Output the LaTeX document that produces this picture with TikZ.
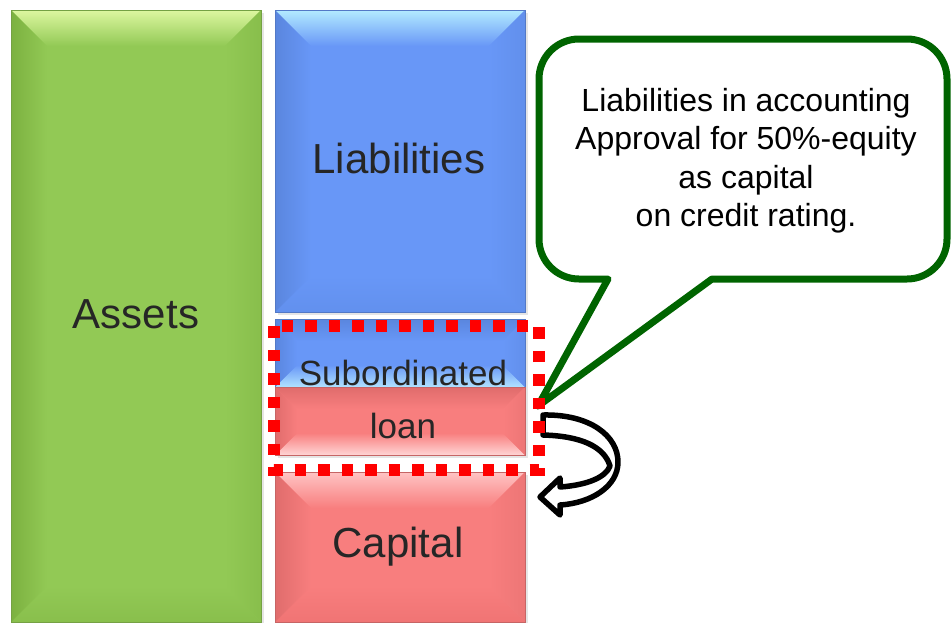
\documentclass[tikz,border=0pt]{standalone}
\usepackage{fontspec}
\setmainfont{Liberation Sans}
\definecolor{gBase}{HTML}{92C955}
\definecolor{gTop}{HTML}{DDF7A0}
\definecolor{gLeft}{HTML}{7CB140}
\definecolor{gBot}{HTML}{89BF4C}
\definecolor{bBase}{HTML}{6897F7}
\definecolor{bTop}{HTML}{B3EBFF}
\definecolor{bLeft}{HTML}{5A86DE}
\definecolor{bBot}{HTML}{6290EE}
\definecolor{bLight}{HTML}{B0E2FF}
\definecolor{rBase}{HTML}{F87E7E}
\definecolor{rTop}{HTML}{FFC4C4}
\definecolor{rLeft}{HTML}{E06C6C}
\definecolor{rBot}{HTML}{F07474}
\definecolor{rLight}{HTML}{FFD4D4}
\definecolor{txt}{HTML}{262626}
\definecolor{callgreen}{HTML}{006400}
% x1 y1 x2 y2 base top left bottom bevel
\newcommand{\bevbox}[9]{%
  \fill[black!10] ({#1+3},{#2+3}) rectangle ({#3+3},{#4+3});
  \fill[#5] (#1,#2) rectangle (#3,#4);
  \shade[top color=#6,bottom color=#5] (#1,#2) -- (#3,#2) -- ({#3-#9},{#2+#9}) -- ({#1+#9},{#2+#9}) -- cycle;
  \shade[top color=#5,bottom color=#8] (#1,#4) -- (#3,#4) -- ({#3-#9},{#4-#9}) -- ({#1+#9},{#4-#9}) -- cycle;
  \shade[left color=#7,right color=#5] (#1,#2) -- ({#1+#9},{#2+#9}) -- ({#1+#9},{#4-#9}) -- (#1,#4) -- cycle;
  \shade[left color=#5,right color=#7!45!#5] (#3,#2) -- ({#3-#9},{#2+#9}) -- ({#3-#9},{#4-#9}) -- (#3,#4) -- cycle;
  \draw[#5!80!black, line width=0.8] (#1,#2) rectangle (#3,#4);
}
\begin{document}
\begin{tikzpicture}[x=1pt,y=-1pt,
  bigtxt/.style={text=txt, inner sep=0pt, anchor=base, font=\fontsize{42}{50}\selectfont},
  midtxt/.style={text=txt, inner sep=0pt, anchor=base, font=\fontsize{35}{42}\selectfont},
  callout/.style={draw=callgreen, fill=white, line width=7pt, line join=round},
  turnarrow/.style={draw=black, fill=white, line width=5.5pt, line join=round},
  reddots/.style={draw=red, line width=11.5pt, dash pattern=on 11.5pt off 12pt}]
\useasboundingbox (0,0) rectangle (951,622);
\fill[white] (0,0) rectangle (951,622);

% blocks
\bevbox{11}{10}{261}{622}{gBase}{gTop}{gLeft}{gBot}{36}
\bevbox{275}{10}{525}{312}{bBase}{bTop}{bLeft}{bBot}{36}
\bevbox{275}{319}{525}{387}{bBase}{bLeft}{bLeft}{bLight}{22}
\bevbox{275}{387}{525}{455}{rBase}{rLeft}{rLeft}{rLight}{22}
\bevbox{275}{472}{525}{622}{rBase}{rTop}{rLeft}{rBot}{36}

\node[bigtxt] (assets) at (136,328) {Assets};
\node[bigtxt] (liab) at (399,173) {Liabilities};
\node[midtxt] (sub) at (403,385) {Subordinated};
\node[midtxt] (loan) at (403,438) {loan};
\node[bigtxt] (capital) at (398,557) {Capital};

% callout
\draw[callout] (700,39) [rounded corners=40] -- (539,39) -- (539,279)
  [sharp corners] -- (608,279) -- (538,406) -- (712,279)
  [rounded corners=40] -- (947,279) -- (947,39) -- cycle;
\node[inner sep=0pt, anchor=north, align=center, text=black,
      font=\fontsize{32}{38.5}\selectfont] (note) at (746,88)
  {Liabilities in accounting\\Approval for 50\%-equity\\as capital\\on credit rating.};

% curved arrow
\draw[turnarrow] (543,415) .. controls (590,414) and (618,436) .. (618,462)
  .. controls (618,486) and (592,503) .. (560,505) -- (560,515) -- (540,497)
  -- (560,478) -- (560,487) .. controls (588,485) and (606,477) .. (610,466)
  .. controls (604,446) and (580,436) .. (543,435) -- cycle;

% red dotted frame
\draw[reddots] (274,326) rectangle (539,470);
\end{tikzpicture}
\end{document}
